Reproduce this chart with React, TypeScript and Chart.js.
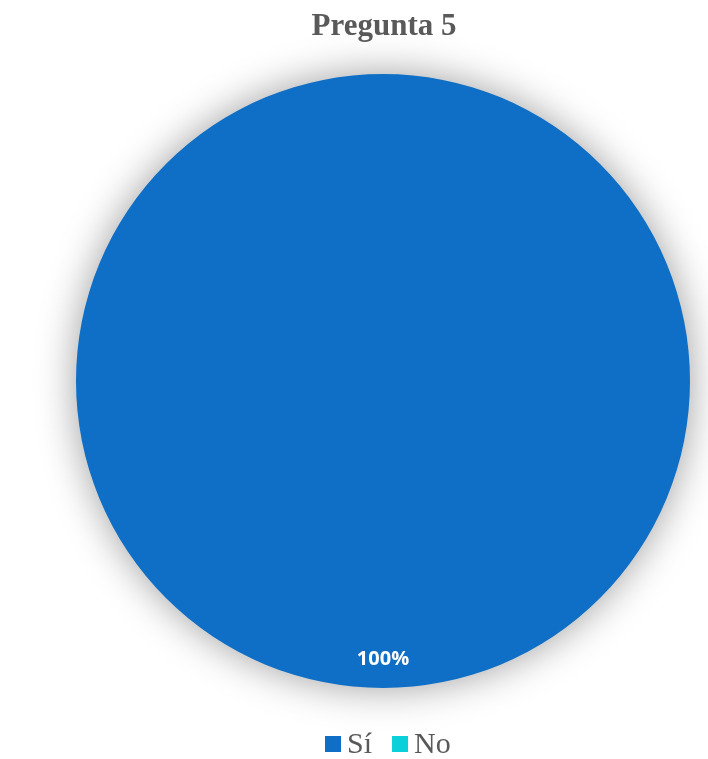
import React, { useEffect, useRef } from "react";
import { Chart, registerables } from "chart.js";

Chart.register(...registerables);

const chartTitle = "Pregunta 5";
const categories = ["Sí", "No"];
const values = [100, 0];
const colors = ["#0F6FC6", "#0BD0D9"];
const textColor = "#595959";

const decorPlugin = {
  id: "decor",
  beforeDatasetsDraw(chart: any) {
    const meta = chart.getDatasetMeta(0);
    const arc = meta.data[0];
    if (!arc) return;
    const ctx = chart.ctx;
    ctx.save();
    ctx.shadowColor = "rgba(0,0,0,0.4)";
    ctx.shadowBlur = 40;
    ctx.shadowOffsetX = 0;
    ctx.shadowOffsetY = 0;
    ctx.beginPath();
    ctx.arc(arc.x, arc.y, arc.outerRadius - 1, 0, Math.PI * 2);
    ctx.fillStyle = colors[0];
    ctx.fill();
    ctx.restore();
  },
  afterDatasetsDraw(chart: any) {
    const ctx = chart.ctx;
    const meta = chart.getDatasetMeta(0);
    const data = chart.data.datasets[0].data as number[];
    const total = data.reduce((a, b) => a + b, 0);
    ctx.save();
    ctx.fillStyle = "#ffffff";
    ctx.font = "bold 20px 'Open Sans', 'Liberation Sans', sans-serif";
    ctx.textAlign = "center";
    ctx.textBaseline = "middle";
    meta.data.forEach((el: any, i: number) => {
      const v = data[i];
      if (!v) return;
      const mid = (el.startAngle + el.endAngle) / 2;
      const full = el.endAngle - el.startAngle >= Math.PI * 2 - 1e-6;
      const ang = full ? Math.PI / 2 : mid;
      const rr = el.outerRadius * (full ? 0.905 : 0.7);
      const x = el.x + Math.cos(ang) * rr;
      const y = el.y + Math.sin(ang) * rr;
      ctx.fillText(Math.round((v / total) * 100) + "%", x, y);
    });
    ctx.restore();

    // title
    ctx.save();
    ctx.fillStyle = textColor;
    ctx.font = "bold 31px 'Liberation Serif', 'DejaVu Serif', serif";
    ctx.textAlign = "center";
    ctx.textBaseline = "alphabetic";
    ctx.fillText(chartTitle, chart.width / 2 + 30, 35);
    ctx.restore();

    // legend
    ctx.save();
    ctx.font = "30px 'Liberation Serif', 'DejaVu Serif', serif";
    const box = 16;
    const gapBoxText = 6;
    const gapItems = 20;
    let x = 325;
    const baseline = 753;
    categories.forEach((c, i) => {
      ctx.fillStyle = colors[i];
      ctx.fillRect(x, 736, box, box);
      ctx.fillStyle = textColor;
      ctx.textAlign = "left";
      ctx.textBaseline = "alphabetic";
      ctx.fillText(c, x + box + gapBoxText, baseline);
      x += box + gapBoxText + ctx.measureText(c).width + gapItems;
    });
    ctx.restore();
  },
};

export default function App() {
  const ref = useRef<HTMLCanvasElement | null>(null);
  useEffect(() => {
    document.body.style.margin = "0";
    if (!ref.current) return;
    const chart = new Chart(ref.current, {
      type: "pie",
      data: {
        labels: categories,
        datasets: [
          {
            data: values,
            backgroundColor: colors,
            borderWidth: 0,
          },
        ],
      },
      options: {
        animation: false,
        responsive: false,
        maintainAspectRatio: false,
        layout: { padding: { left: 76, right: 18, top: 74, bottom: 71 } },
        plugins: {
          legend: { display: false },
          title: { display: false },
          tooltip: { enabled: false },
        },
      },
      plugins: [decorPlugin],
    });
    return () => chart.destroy();
  }, []);
  return (
    <div style={{ width: 708, height: 759, background: "#ffffff" }}>
      <canvas ref={ref} width={708} height={759} style={{ display: "block" }} />
    </div>
  );
}
